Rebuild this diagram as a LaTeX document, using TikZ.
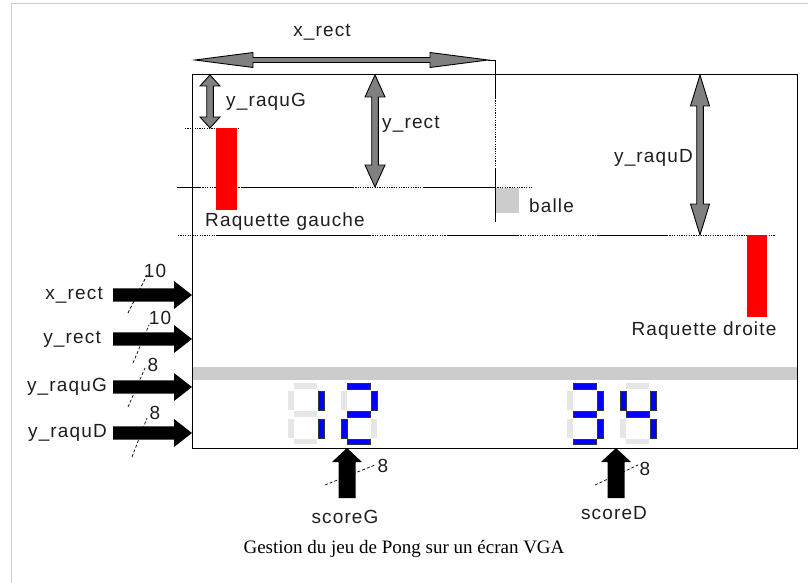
\documentclass[tikz,border=0pt]{standalone}
\usepackage{fontspec}
\setmainfont{Liberation Sans}
\newfontfamily\labfont[LetterSpace=6]{Liberation Sans}
\newfontfamily\capfont{Liberation Serif}
\definecolor{txt}{HTML}{1E1E1E}
\definecolor{arrgray}{HTML}{808080}
\definecolor{segoff}{HTML}{E6E6E6}
\definecolor{ballgray}{HTML}{CCCCCC}
\newcommand\vdarr[5]{% x, ytop, ybot, headlen, headhalf
  \filldraw[garrow] (#1,#2) -- (#1+#5,#2+#4) -- (#1+3.3,#2+#4) -- (#1+3.3,#3-#4) -- (#1+#5,#3-#4) -- (#1,#3)
   -- (#1-#5,#3-#4) -- (#1-3.3,#3-#4) -- (#1-3.3,#2+#4) -- (#1-#5,#2+#4) -- cycle;}
\newcommand\busarr[1]{% y centre
  \fill (113,#1-6.7) -- (174,#1-6.7) -- (174,#1-14) -- (192,#1) -- (174,#1+14) -- (174,#1+6.7) -- (113,#1+6.7) -- cycle;}
\newcommand\uparr[1]{% x of tip
  \fill (#1,448) -- (#1+15,462) -- (#1+8.5,462) -- (#1+8.5,498) -- (#1-8.5,498) -- (#1-8.5,462) -- (#1-15,462) -- cycle;}
% segments: #1 style, #2 x0, #3 y0
\newcommand\sega[3]{\filldraw[#1] (#2+7,#3+1) rectangle (#2+30,#3+7);}
\newcommand\segb[3]{\filldraw[#1] (#2+31,#3+9) rectangle (#2+37,#3+28);}
\newcommand\segc[3]{\filldraw[#1] (#2+31,#3+37) rectangle (#2+37,#3+56);}
\newcommand\segd[3]{\filldraw[#1] (#2+7,#3+57) rectangle (#2+30,#3+62);}
\newcommand\sege[3]{\filldraw[#1] (#2+1,#3+37) rectangle (#2+7,#3+56);}
\newcommand\segf[3]{\filldraw[#1] (#2+1,#3+9) rectangle (#2+7,#3+28);}
\newcommand\segg[3]{\filldraw[#1] (#2+7,#3+29) rectangle (#2+30,#3+35);}
\begin{document}
\begin{tikzpicture}[x=1pt,y=-1pt,
  lab/.style={font=\labfont\fontsize{19}{21}\selectfont, text=txt, inner sep=0pt},
  garrow/.style={fill=arrgray, draw=black, line width=0.9pt, line join=miter},
  thin line/.style={draw=black, line width=0.8pt},
  dots/.style={draw=black, line width=0.8pt, dash pattern=on 1.2pt off 1.2pt},
  slash/.style={draw=black, line width=0.7pt, dash pattern=on 3pt off 2pt},
  on/.style={fill=blue, draw=black!80, line width=0.6pt},
  off/.style={fill=segoff, draw=none}]
\useasboundingbox (0,0) rectangle (808,583);
\fill[white] (0,0) rectangle (808,583);
% wiki frame
\draw[ballgray, line width=1pt] (11,583) -- (11,4) -- (808,4);

% main screen rectangle
\fill[ballgray] (192,367) rectangle (797,380);
\draw[thin line] (192,74) rectangle (797,448);

% horizontal guide at paddle G top
\draw[dots] (185,128) -- (240,128);
% guide y=187
\draw[thin line] (177,187) -- (200,187);
\draw[dots] (200,187) -- (242,187);
\draw[thin line] (242,187) -- (353,187);
\draw[dots] (353,187) -- (423,187);
\draw[thin line] (423,187) -- (495,187);
\draw[dots] (495,187) -- (533,187);
% guide y=235
\draw[dots] (178,235) -- (217,235);
\draw[thin line] (217,235) -- (370,235);
\draw[dots] (370,235) -- (447,235);
\draw[thin line] (447,235) -- (518,235);
\draw[dots] (518,235) -- (597,235);
\draw[thin line] (597,235) -- (667,235);
\draw[dots] (667,235) -- (747,235);
\draw[dots] (747,235) -- (775,235);
% vertical guide from x_rect
\coordinate (xend) at (488,60);
\draw[thin line] (xend) -- (495,60) -- (495,98);
\draw[dots] (495,98) -- (495,168);
\draw[thin line] (495,168) -- (495,222);

% paddles and ball
\fill[red] (216,128) rectangle (237,210);
\fill[red] (747,235) rectangle (767,317);
\fill[ballgray] (496,188) rectangle (519,213);

% gray dimension arrows
\filldraw[garrow] (195,60) -- (253,52.5) -- (253,57.5) -- (430,57.5) -- (430,52.5) -- (488,60)
  -- (430,67.5) -- (430,62.5) -- (253,62.5) -- (253,67.5) -- cycle;
\vdarr{210}{75}{128}{11}{10}
\vdarr{375}{75}{187}{22}{10}
\vdarr{700}{75}{235}{31}{9.5}

% labels inside
\node[lab] (lxr) at (322,32) {x\_rect};
\node[lab, anchor=west] (lyg) at (226,102) {y\_raquG};
\node[lab, anchor=west] (lyr) at (382,124) {y\_rect};
\node[lab, anchor=east] (lyd) at (693,158) {y\_raquD};
\node[lab, anchor=west] (lball) at (529,206) {balle};
\node[lab, anchor=west] (lrg) at (205,222) {Raquette gauche};
\node[lab] (lrd) at (704,331) {Raquette droite};

% input buses
\busarr{295}
\busarr{339}
\busarr{387}
\busarr{433}
\draw[slash] (128,313) -- (147,275);
\draw[slash] (133,363) -- (149,325);
\draw[slash] (128,407) -- (145,368);
\draw[slash] (132,457) -- (147,418);
\node[lab, anchor=east] (ixr) at (103,295) {x\_rect};
\node[lab, anchor=east] (iyr) at (101,339) {y\_rect};
\node[lab, anchor=east] (iyg) at (107,387) {y\_raquG};
\node[lab, anchor=east] (iyd) at (107,433) {y\_raquD};
\node[lab] (n1) at (155,271) {10};
\node[lab] (n2) at (160,318) {10};
\node[lab] (n3) at (153,365) {8};
\node[lab] (n4) at (155,413) {8};

% score digits
% G1 = 1
\sega{off}{287}{382}\segf{off}{287}{382}\segg{off}{287}{382}\sege{off}{287}{382}\segd{off}{287}{382}
\segb{on}{287}{382}\segc{on}{287}{382}
% G2 = 2
\segf{off}{340}{382}\segc{off}{340}{382}
\sega{on}{340}{382}\segb{on}{340}{382}\segg{on}{340}{382}\sege{on}{340}{382}\segd{on}{340}{382}
% D1 = 3
\segf{off}{566}{382}\sege{off}{566}{382}
\sega{on}{566}{382}\segb{on}{566}{382}\segg{on}{566}{382}\segc{on}{566}{382}\segd{on}{566}{382}
% D2 = 4
\sega{off}{619}{382}\sege{off}{619}{382}\segd{off}{619}{382}
\segf{on}{619}{382}\segb{on}{619}{382}\segg{on}{619}{382}\segc{on}{619}{382}

% score buses
\uparr{347}
\uparr{616}
\draw[slash] (325,485) -- (375,465);
\draw[slash] (595,485) -- (638,465);
\node[lab] (s8g) at (383,466) {8};
\node[lab] (s8d) at (645,469) {8};
\node[lab] (lsg) at (345,517) {scoreG};
\node[lab] (lsd) at (614,513) {scoreD};

% caption
\node[font=\capfont\fontsize{19}{21}\selectfont, inner sep=0pt] (cap) at (404,549) {Gestion du jeu de Pong sur un écran VGA};
\end{tikzpicture}
\end{document}
